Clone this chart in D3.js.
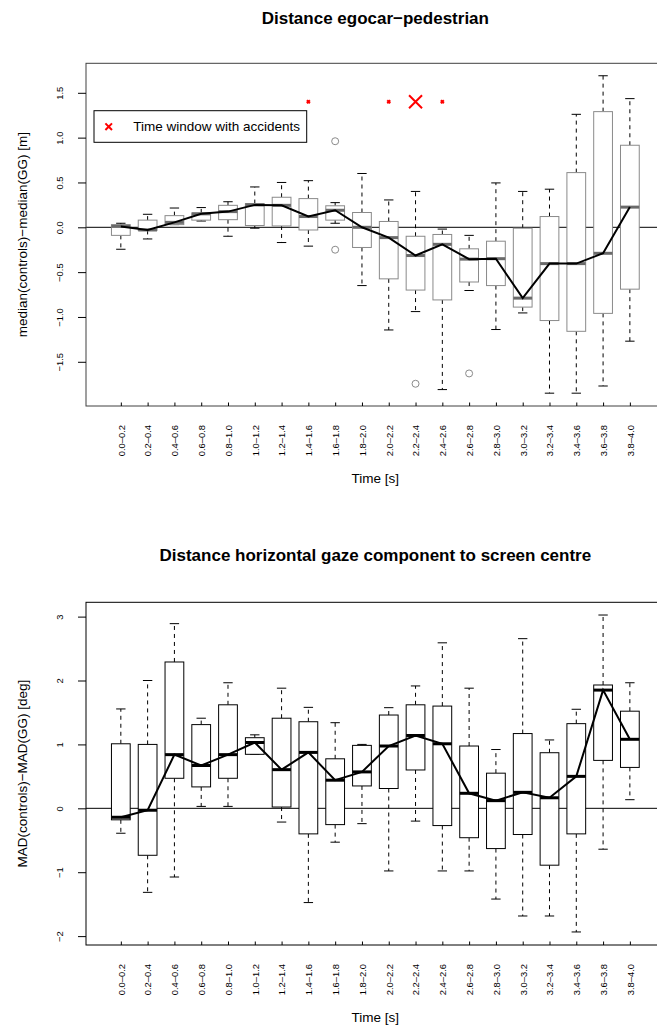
<!DOCTYPE html>
<html>
<head>
<meta charset="utf-8">
<script src="https://cdn.jsdelivr.net/npm/d3@7"></script>
<style>
body { margin: 0; background: #ffffff; }
text { font-family: "Liberation Sans", Arial, sans-serif; }
</style>
</head>
<body>
<div id="chart"></div>
<script>
// time windows (x categories)
var timeBins = ["0.0–0.2", "0.2–0.4", "0.4–0.6", "0.6–0.8", "0.8–1.0", "1.0–1.2", "1.2–1.4",
    "1.4–1.6", "1.6–1.8", "1.8–2.0", "2.0–2.2", "2.2–2.4", "2.4–2.6", "2.6–2.8", "2.8–3.0",
    "3.0–3.2", "3.2–3.4", "3.4–3.6", "3.6–3.8", "3.8–4.0"];

// panel 1 : median(controls)-median(GG) [m]
var distLow = [-0.245, -0.13, 0.03, 0.07, -0.10, -0.01, -0.17, -0.21, 0.045, -0.65,
    -1.145, -0.94, -1.81, -0.705, -1.14, -0.955, -1.85, -1.85, -1.77, -1.27];
var distQ1 = [-0.09, -0.035, 0.03, 0.08, 0.085, 0.02, 0.015, -0.03, 0.08, -0.225,
    -0.575, -0.70, -0.81, -0.61, -0.65, -0.89, -1.04, -1.16, -0.96, -0.69];
var distMed = [0.01, -0.03, 0.055, 0.15, 0.175, 0.25, 0.245, 0.12, 0.19, 0.0,
    -0.115, -0.315, -0.19, -0.355, -0.35, -0.79, -0.405, -0.405, -0.29, 0.225];
var distQ3 = [0.03, 0.08, 0.13, 0.16, 0.245, 0.265, 0.335, 0.32, 0.24, 0.165,
    0.065, -0.10, -0.08, -0.24, -0.155, -0.01, 0.12, 0.61, 1.29, 0.915];
var distHigh = [0.045, 0.145, 0.215, 0.22, 0.285, 0.45, 0.50, 0.52, 0.275, 0.60,
    0.305, 0.40, -0.02, -0.09, 0.495, 0.40, 0.425, 1.26, 1.69, 1.435];
var distOutBin = [9, 9, 12, 14];
var distOutVal = [0.96, -0.25, -1.745, -1.63];
var distTicks = [-1.5, -1.0, -0.5, 0.0, 0.5, 1.0, 1.5];

// time windows with accidents
var accidentSmall = [8, 11, 13];
var accidentBig = [12];
var accidentLevel = 1.4;

// panel 2 : MAD(controls)-MAD(GG) [deg]
var gazeLow = [-0.39, -1.315, -1.075, 0.03, 0.03, 0.845, -0.215, -1.475, -0.53, -0.24,
    -0.98, -0.20, -0.98, -0.98, -1.42, -1.685, -1.685, -1.935, -0.64, 0.135];
var gazeQ1 = [-0.18, -0.735, 0.47, 0.335, 0.47, 0.845, 0.02, -0.40, -0.255, 0.35,
    0.31, 0.60, -0.27, -0.46, -0.63, -0.41, -0.89, -0.40, 0.75, 0.64];
var gazeMed = [-0.14, -0.03, 0.84, 0.67, 0.84, 1.03, 0.605, 0.875, 0.44, 0.57,
    0.975, 1.14, 1.01, 0.235, 0.12, 0.25, 0.165, 0.50, 1.85, 1.08];
var gazeQ3 = [1.01, 1.0, 2.29, 1.31, 1.62, 1.105, 1.41, 1.355, 0.775, 0.985,
    1.46, 1.62, 1.6, 0.975, 0.55, 1.17, 0.87, 1.325, 1.93, 1.52];
var gazeHigh = [1.555, 2.0, 2.89, 1.41, 1.965, 1.15, 1.88, 1.58, 1.34, 1.0,
    1.575, 1.915, 2.59, 1.88, 0.92, 2.655, 1.07, 1.55, 3.025, 1.965];
var gazeTicks = [-2, -1, 0, 1, 2, 3];

var W = 657, H = 1026;
var left = 86, right = 664.7;

var svg = d3.select("#chart")
    .append("svg")
    .attr("width", W)
    .attr("height", H);

svg.append("rect")
    .attr("width", W)
    .attr("height", H)
    .attr("fill", "#ffffff");

var x = d3.scaleLinear().domain([-0.3, 21.3]).range([left, right]);
var half = 0.35; // half box width, in category units

function drawPanel(p) {
    var y = d3.scaleLinear().domain(p.domain).range([p.bottom, p.top]);
    var g = svg.append("g");

    // title
    g.append("text")
        .attr("x", (left + right) / 2)
        .attr("y", p.titleY)
        .attr("text-anchor", "middle")
        .attr("font-size", "17px")
        .attr("font-weight", "bold")
        .text(p.title);

    // zero line
    g.append("line")
        .attr("x1", left).attr("x2", right)
        .attr("y1", y(0)).attr("y2", y(0))
        .attr("stroke", "#000").attr("stroke-width", 1);

    var i, cx, wl, wr;
    for (i = 0; i < timeBins.length; i++) {
        cx = x(i + 1);
        wl = x(i + 1 - half / 2);
        wr = x(i + 1 + half / 2);
        // whiskers
        g.append("line")
            .attr("x1", cx).attr("x2", cx)
            .attr("y1", y(p.q3[i])).attr("y2", y(p.high[i]))
            .attr("stroke", "#000").attr("stroke-dasharray", "4,4");
        g.append("line")
            .attr("x1", cx).attr("x2", cx)
            .attr("y1", y(p.q1[i])).attr("y2", y(p.low[i]))
            .attr("stroke", "#000").attr("stroke-dasharray", "4,4");
        g.append("line")
            .attr("x1", wl).attr("x2", wr)
            .attr("y1", y(p.high[i])).attr("y2", y(p.high[i]))
            .attr("stroke", "#000");
        g.append("line")
            .attr("x1", wl).attr("x2", wr)
            .attr("y1", y(p.low[i])).attr("y2", y(p.low[i]))
            .attr("stroke", "#000");
        // box
        g.append("rect")
            .attr("x", x(i + 1 - half))
            .attr("y", y(p.q3[i]))
            .attr("width", x(i + 1 + half) - x(i + 1 - half))
            .attr("height", y(p.q1[i]) - y(p.q3[i]))
            .attr("fill", "#ffffff")
            .attr("stroke", p.boxColor)
            .attr("stroke-width", 1);
        // median
        g.append("line")
            .attr("x1", x(i + 1 - half)).attr("x2", x(i + 1 + half))
            .attr("y1", y(p.med[i])).attr("y2", y(p.med[i]))
            .attr("stroke", p.medColor).attr("stroke-width", 3);
    }

    // outliers
    for (i = 0; i < p.outBin.length; i++) {
        g.append("circle")
            .attr("cx", x(p.outBin[i]))
            .attr("cy", y(p.outVal[i]))
            .attr("r", 3.5)
            .attr("fill", "none")
            .attr("stroke", p.boxColor);
    }

    // line through the medians
    var line = d3.line()
        .x(function (d, j) { return x(j + 1); })
        .y(function (d) { return y(d); });
    g.append("path")
        .attr("d", line(p.med))
        .attr("fill", "none")
        .attr("stroke", "#000")
        .attr("stroke-width", 2);

    // frame
    g.append("rect")
        .attr("x", left).attr("y", p.top)
        .attr("width", right - left).attr("height", p.bottom - p.top)
        .attr("fill", "none")
        .attr("stroke", p.frameColor);

    // y axis
    var ya = g.append("g")
        .attr("transform", "translate(" + left + ",0)")
        .call(d3.axisLeft(y).tickValues(p.ticks).tickSize(8).tickFormat(p.fmt));
    ya.select(".domain").remove();
    ya.selectAll("text")
        .attr("x", 0).attr("y", 0).attr("dy", "0.35em")
        .attr("text-anchor", "middle")
        .attr("font-size", "9.4px")
        .attr("font-family", null)
        .attr("transform", "translate(-26,0) rotate(-90)");

    // x axis
    var xa = g.append("g")
        .attr("transform", "translate(0," + p.bottom + ")")
        .call(d3.axisBottom(x).tickValues(d3.range(1, 21)).tickSize(-3.5)
            .tickFormat(function (d) { return timeBins[d - 1]; }));
    xa.select(".domain").remove();
    xa.selectAll("text")
        .attr("x", 0).attr("y", 0).attr("dy", "0.35em")
        .attr("text-anchor", "end")
        .attr("font-size", "9.4px")
        .attr("font-family", null)
        .attr("transform", "translate(0,19) rotate(-90)");

    // axis titles
    g.append("text")
        .attr("x", (left + right) / 2)
        .attr("y", p.bottom + 77)
        .attr("text-anchor", "middle")
        .attr("font-size", "13.5px")
        .text("Time [s]");
    g.append("text")
        .attr("transform", "translate(22," + (p.top + p.bottom) / 2 + ") rotate(-90)")
        .attr("dy", "0.35em")
        .attr("text-anchor", "middle")
        .attr("font-size", "13.5px")
        .text(p.ylab);

    return y;
}

var y1 = drawPanel({
    title: "Distance egocar\u2212pedestrian",
    titleY: 24,
    top: 63.3, bottom: 406,
    domain: [-1.993, 1.829],
    low: distLow, q1: distQ1, med: distMed, q3: distQ3, high: distHigh,
    outBin: distOutBin, outVal: distOutVal,
    ticks: distTicks, fmt: d3.format(".1f"),
    boxColor: "#8a8a8a", medColor: "#6a6a6a", frameColor: "#404040",
    ylab: "median(controls)\u2212median(GG) [m]"
});

// accident markers
function cross(cx, cy, s, w) {
    svg.append("path")
        .attr("d", "M" + (cx - s) + "," + (cy - s) + "L" + (cx + s) + "," + (cy + s) +
            "M" + (cx - s) + "," + (cy + s) + "L" + (cx + s) + "," + (cy - s))
        .attr("stroke", "#ff0000")
        .attr("stroke-width", w)
        .attr("fill", "none");
}
var k;
for (k = 0; k < accidentSmall.length; k++) {
    cross(x(accidentSmall[k]), y1(accidentLevel), 1.5, 2);
}
for (k = 0; k < accidentBig.length; k++) {
    cross(x(accidentBig[k]), y1(accidentLevel), 6.5, 2);
}

// legend
svg.append("rect")
    .attr("x", 94).attr("y", 110.7)
    .attr("width", 212.7).attr("height", 31.6)
    .attr("fill", "#ffffff")
    .attr("stroke", "#000");
cross(108.7, 126.7, 3.3, 2);
svg.append("text")
    .attr("x", 133.3).attr("y", 126.7)
    .attr("dy", "0.35em")
    .attr("font-size", "13.5px")
    .text("Time window with accidents");

drawPanel({
    title: "Distance horizontal gaze component to screen centre",
    titleY: 561,
    top: 602.3, bottom: 945,
    domain: [-2.139, 3.224],
    low: gazeLow, q1: gazeQ1, med: gazeMed, q3: gazeQ3, high: gazeHigh,
    outBin: [], outVal: [],
    ticks: gazeTicks, fmt: d3.format("d"),
    boxColor: "#000", medColor: "#000", frameColor: "#000",
    ylab: "MAD(controls)\u2212MAD(GG) [deg]"
});
</script>
</body>
</html>
